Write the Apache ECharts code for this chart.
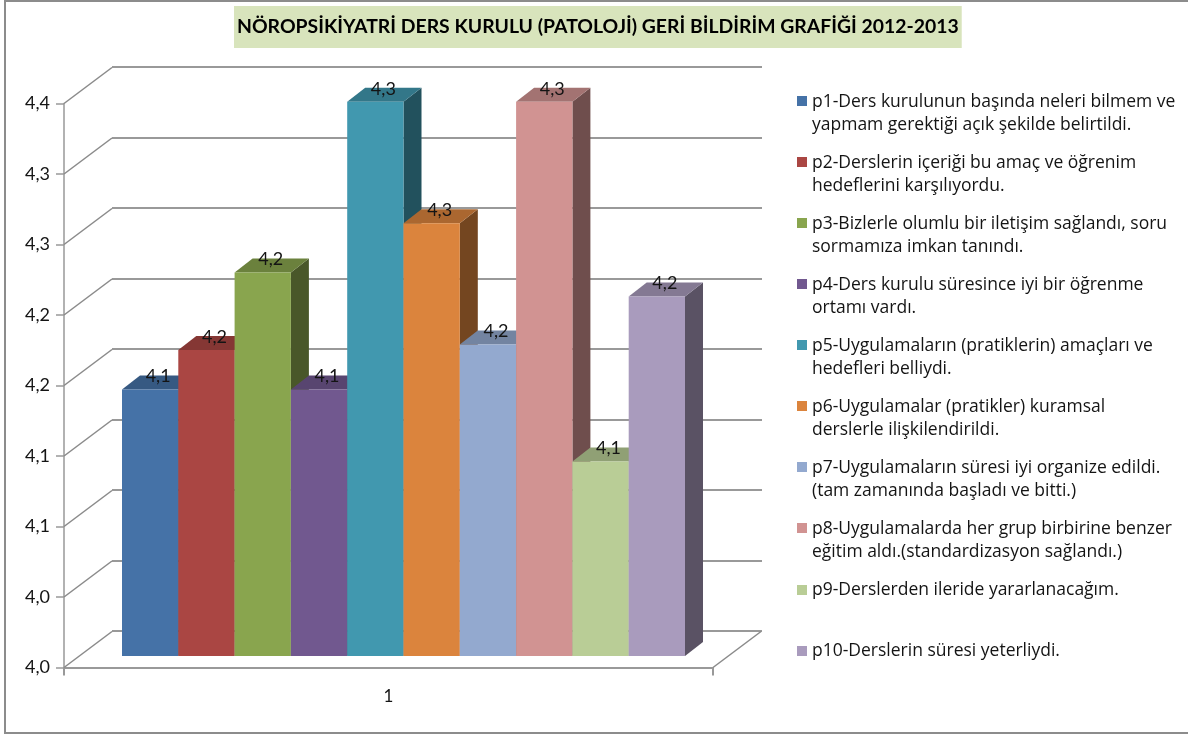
<!DOCTYPE html>
<html><head><meta charset="utf-8">
<style>html,body{margin:0;padding:0;background:#fff}#c{width:1188px;height:734px}</style>
<script src="https://cdn.jsdelivr.net/npm/echarts@6/dist/echarts.min.js"></script>
</head><body><div id="c"></div>
<script>
const chartTitle = 'NÖROPSİKİYATRİ DERS KURULU (PATOLOJİ) GERİ BİLDİRİM GRAFİĞİ 2012-2013';
const categories = ['1'];
const seriesNames = [
  'p1-Ders kurulunun başında neleri bilmem ve\nyapmam gerektiği açık şekilde belirtildi.',
  'p2-Derslerin içeriği bu amaç ve öğrenim\nhedeflerini karşılıyordu.',
  'p3-Bizlerle olumlu bir iletişim sağlandı, soru\nsormamıza imkan tanındı.',
  'p4-Ders kurulu süresince iyi bir öğrenme\nortamı vardı.',
  'p5-Uygulamaların (pratiklerin) amaçları ve\nhedefleri belliydi.',
  'p6-Uygulamalar (pratikler) kuramsal\nderslerle ilişkilendirildi.',
  'p7-Uygulamaların süresi iyi organize edildi.\n(tam zamanında başladı ve bitti.)',
  'p8-Uygulamalarda her grup birbirine benzer\neğitim aldı.(standardizasyon sağlandı.)',
  'p9-Derslerden ileride yararlanacağım.',
  'p10-Derslerin süresi yeterliydi.'
];
const seriesValues = [4.139, 4.167, 4.222, 4.139, 4.343, 4.257, 4.171, 4.343, 4.088, 4.205];
const seriesColors = ['#4572A7','#AA4643','#89A54E','#71588F','#4198AF','#DB843D','#93A9CF','#D19392','#B9CD96','#A99BBD'];
const yTicks = [3.95, 4.0, 4.05, 4.1, 4.15, 4.2, 4.25, 4.3, 4.35];

const FONT = 'Lato';
const TXT = '#141414';
const LINE = '#999999';
const fmt = v => (Math.round(v * 10 + 1e-6) / 10).toFixed(1).replace('.', ',');
const shade = (hex, f) => {
  const n = parseInt(hex.slice(1), 16);
  return 'rgb(' + [n >> 16, (n >> 8) & 255, n & 255].map(c => Math.round(c * f)).join(',') + ')';
};
const DX = 18, DY = -14;
const WX = 48, WY = -36;
const commonY = {min: 3.95, max: 4.35, interval: 0.05};

const barSeries = seriesNames.map((name, i) => ({
  name, type: 'custom', xAxisIndex: 2, yAxisIndex: 2, color: seriesColors[i],
  itemStyle: {color: seriesColors[i]}, clip: false, z: 5,
  data: [[0, seriesValues[i]]],
  renderItem(params, api) {
    const band = api.size([1, 0])[0];
    const w = band / seriesNames.length;
    const c = api.coord([api.value(0), api.value(1)]);
    const base = api.coord([api.value(0), 3.95])[1];
    const x0 = c[0] - band / 2 + i * w, x1 = x0 + w, t = c[1];
    const col = seriesColors[i];
    const poly = (points, fill) => ({type: 'polygon', shape: {points}, style: {fill}});
    return {type: 'group', children: [
      poly([[x1, t], [x1 + DX, t + DY], [x1 + DX, base + DY], [x1, base]], shade(col, 0.53)),
      poly([[x0, t], [x0 + DX, t + DY], [x1 + DX, t + DY], [x1, t]], shade(col, 0.78)),
      poly([[x0, t], [x1, t], [x1, base], [x0, base]], col),
      {type: 'text', z2: 20, style: {text: fmt(api.value(1)), x: (x0 + x1) / 2 + 8, y: t - 13,
        align: 'center', verticalAlign: 'middle', font: '18px ' + FONT, fill: TXT}}
    ]};
  }
}));

const wallSeries = {
  type: 'custom', xAxisIndex: 0, yAxisIndex: 0, silent: true, clip: false, z: 1,
  data: yTicks.map(v => [0, v]),
  renderItem(params, api) {
    const p = api.coord([api.value(0), api.value(1)]);
    const band = api.size([1, 0])[0];
    const left = p[0] - band / 2, right = p[0] + band / 2;
    const st = {stroke: '#8a8a8a', lineWidth: 1.5, fill: null};
    const seg = (a) => ({type: 'line', shape: {x1: a, y1: p[1], x2: a + WX, y2: p[1] + WY}, style: st});
    const kids = [seg(left)];
    if (params.dataIndex === 0) kids.push(seg(right));
    return {type: 'group', children: kids};
  }
};

const twoLineIcon = 'path://M0 0H0.01V0.01Z M0 5.5H10V15.5H0Z M0 46H0.01V45.99Z';
const legends = seriesNames.map((name, i) => {
  const two = name.includes('\n');
  return {
    data: [{name, icon: two ? twoLineIcon : 'rect'}],
    left: 797, top: 102 + 61 * i - 11.5, orient: 'vertical', padding: 0,
    itemWidth: 10, itemHeight: two ? 46 : 10, selectedMode: false,
    textStyle: {fontFamily: 'Open Sans', fontSize: 17.5, lineHeight: 23, color: TXT}
  };
});

const chart = echarts.init(document.getElementById('c'), null, {renderer: 'canvas'});
chart.setOption({
  animation: false,
  backgroundColor: '#fff',
  title: {
    text: chartTitle, left: 234, top: 6,
    padding: [11, 3, 11, 3], backgroundColor: '#D8E4BC',
    textStyle: {fontFamily: FONT, fontSize: 19.4, fontWeight: 'bold', color: '#000', lineHeight: 20}
  },
  legend: legends,
  grid: [
    {left: 64, top: 103.5, width: 649, height: 564},
    {left: 112, top: 67, width: 650, height: 564},
    {left: 122, top: 92, width: 563, height: 564}
  ],
  xAxis: [
    {gridIndex: 0, type: 'category', data: categories,
     axisLine: {lineStyle: {color: LINE, width: 2}},
     axisTick: {show: true, length: 8, lineStyle: {color: LINE, width: 2}},
     axisLabel: {fontFamily: FONT, fontSize: 17, color: TXT, margin: 21}},
    {gridIndex: 1, type: 'category', data: categories, show: false},
    {gridIndex: 2, type: 'category', data: categories, show: false}
  ],
  yAxis: [
    {gridIndex: 0, type: 'value', ...commonY,
     axisLine: {show: true, lineStyle: {color: LINE, width: 1.5}},
     axisTick: {show: true, length: 8, lineStyle: {color: LINE, width: 1.5}},
     splitLine: {show: false},
     axisLabel: {fontFamily: FONT, fontSize: 18, color: TXT, margin: 14, formatter: fmt}},
    {gridIndex: 1, type: 'value', ...commonY,
     axisLine: {show: false}, axisTick: {show: false}, axisLabel: {show: false},
     splitLine: {show: true, lineStyle: {color: LINE, width: 2}}},
    {gridIndex: 2, type: 'value', ...commonY, show: false, splitLine: {show: false}}
  ],
  graphic: [{type: 'rect', silent: true, z: -10,
    shape: {x: 5, y: 1, width: 1200, height: 732},
    style: {fill: 'none', stroke: '#8c8c8c', lineWidth: 2}}],
  series: [wallSeries, ...barSeries]
});
</script></body></html>
